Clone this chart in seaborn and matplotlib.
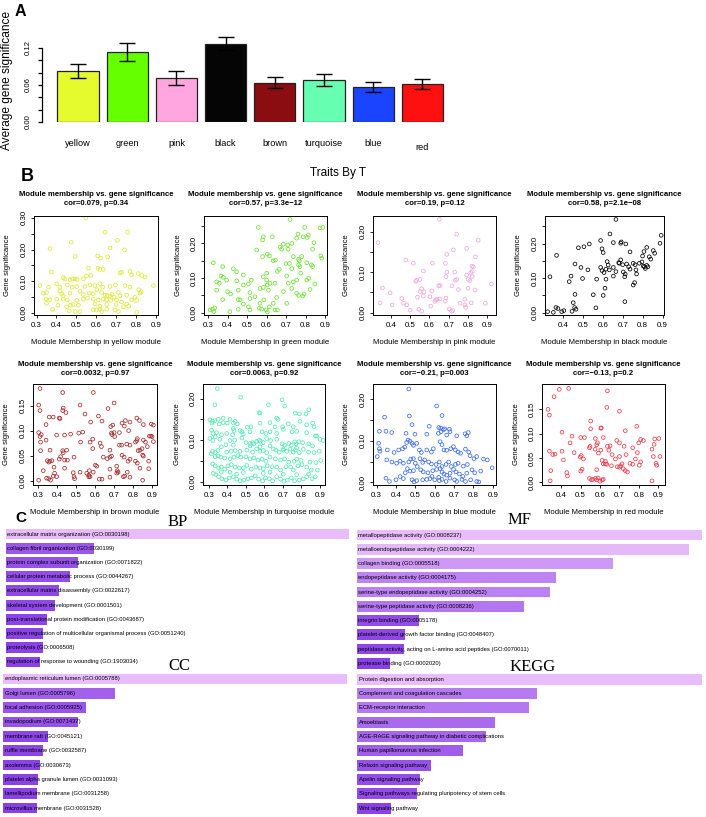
import numpy as np
import pandas as pd
import matplotlib
matplotlib.use("Agg")
import matplotlib.pyplot as plt
import seaborn as sns
from matplotlib.colors import to_rgb

# ---------------- Panel A data ----------------
modules = ["yellow", "green", "pink", "black", "brown", "turquoise", "blue", "red"]
avg_gs = [0.0825, 0.113, 0.0712, 0.127, 0.0637, 0.068, 0.0562, 0.061]
avg_gs_se = [0.0115, 0.0142, 0.0108, 0.0107, 0.0090, 0.0095, 0.0080, 0.0080]
bar_colors = ["#E6FB2E", "#66FF00", "#FFA6E0", "#050505", "#8B0D12", "#66FFB2", "#1A44FF", "#FF1010"]

# ---------------- Panel B data: (module membership, gene significance) ----------------
yellow_points = [
    (0.548, .300), (0.644, .255), (0.758, .255), (0.474, .223), (0.706, .229), (0.367, .203), (0.669, .205),
    (0.742, .199), (0.494, .178), (0.607, .180), (0.622, .173), (0.657, .177), (0.375, .129), (0.561, .141),
    (0.608, .141), (0.618, .137), (0.635, .137), (0.551, .116), (0.572, .118), (0.719, .126), (0.727, .128),
    (0.769, .131), (0.778, .120), (0.811, .124), (0.828, .118), (0.845, .113), (0.434, .111), (0.441, .107),
    (0.468, .105), (0.481, .107), (0.493, .107), (0.504, .105), (0.535, .107), (0.317, .086), (0.360, .081),
    (0.401, .092), (0.417, .081), (0.454, .088), (0.478, .081), (0.501, .083), (0.543, .083), (0.568, .088),
    (0.593, .086), (0.618, .092), (0.632, .081), (0.669, .083), (0.696, .088), (0.744, .086), (0.769, .081),
    (0.813, .073), (0.826, .066), (0.887, .086), (0.334, .062), (0.350, .064), (0.417, .068), (0.426, .060),
    (0.434, .054), (0.468, .062), (0.518, .068), (0.535, .058), (0.565, .062), (0.585, .060), (0.602, .073),
    (0.627, .064), (0.644, .056), (0.655, .054), (0.669, .054), (0.679, .058), (0.689, .049), (0.711, .064),
    (0.719, .054), (0.753, .056), (0.794, .049), (0.820, .062), (0.347, .043), (0.367, .041), (0.401, .043),
    (0.434, .043), (0.454, .041), (0.501, .039), (0.535, .043), (0.555, .047), (0.585, .043), (0.610, .041),
    (0.635, .043), (0.652, .041), (0.672, .039), (0.702, .041), (0.727, .034), (0.778, .041), (0.803, .039),
    (0.350, .030), (0.407, .024), (0.451, .019), (0.471, .024), (0.484, .026), (0.510, .024), (0.593, .028),
    (0.618, .021), (0.652, .026), (0.699, .026), (0.736, .019), (0.753, .028), (0.763, .021), (0.380, .011),
    (0.464, .006), (0.494, .004), (0.518, .004), (0.585, .009), (0.602, .009), (0.618, .011), (0.627, .004),
    (0.652, .011), (0.694, .009), (0.711, .004), (0.803, .001)]

green_points = [
    (0.720, .269), (0.557, .246), (0.795, .246), (0.874, .245), (0.888, .246), (0.761, .227), (0.814, .224),
    (0.583, .219), (0.629, .219), (0.579, .210), (0.754, .215), (0.788, .219), (0.809, .217), (0.843, .202),
    (0.686, .198), (0.708, .196), (0.729, .200), (0.669, .189), (0.677, .183), (0.710, .183), (0.836, .183),
    (0.549, .181), (0.603, .169), (0.614, .164), (0.634, .150), (0.645, .152), (0.579, .162), (0.764, .154),
    (0.768, .150), (0.780, .162), (0.737, .162), (0.699, .142), (0.717, .142), (0.729, .127), (0.764, .138),
    (0.771, .133), (0.775, .114), (0.806, .144), (0.830, .138), (0.836, .133), (0.878, .164), (0.883, .157),
    (0.326, .144), (0.374, .133), (0.429, .127), (0.446, .118), (0.480, .109), (0.521, .094), (0.365, .106),
    (0.377, .102), (0.343, .089), (0.357, .085), (0.394, .094), (0.446, .092), (0.480, .080), (0.506, .083),
    (0.583, .104), (0.600, .094), (0.603, .080), (0.655, .119), (0.665, .125), (0.703, .106), (0.711, .085),
    (0.737, .089), (0.754, .094), (0.806, .094), (0.816, .099), (0.848, .083), (0.600, .114), (0.617, .085),
    (0.343, .065), (0.374, .038), (0.399, .061), (0.415, .054), (0.454, .065), (0.463, .037), (0.514, .041),
    (0.540, .046), (0.566, .070), (0.583, .073), (0.609, .065), (0.643, .085), (0.686, .061), (0.729, .070),
    (0.754, .056), (0.764, .050), (0.785, .048), (0.792, .054), (0.823, .067), (0.454, .038), (0.480, .025),
    (0.514, .058), (0.566, .027), (0.574, .010), (0.597, .008), (0.603, .002), (0.634, .027), (0.643, .008),
    (0.309, .008), (0.322, .010), (0.333, .014), (0.329, .003), (0.411, .003), (0.454, .010), (0.506, .017),
    (0.514, .008), (0.562, .013), (0.614, .017), (0.655, .008), (0.703, .027), (0.651, .044), (0.586, .037)]

pink_points = [
    (0.652, .231), (0.334, .173), (0.741, .194), (0.853, .179), (0.478, .130), (0.838, .138), (0.793, .159),
    (0.517, .122), (0.616, .122), (0.690, .144), (0.683, .122), (0.724, .155), (0.569, .103), (0.534, .080),
    (0.552, .082), (0.529, .077), (0.560, .059), (0.572, .051), (0.569, .041), (0.655, .067), (0.648, .066),
    (0.690, .100), (0.686, .089), (0.731, .100), (0.734, .080), (0.741, .082), (0.717, .066), (0.750, .057),
    (0.802, .082), (0.821, .115), (0.828, .113), (0.822, .102), (0.814, .099), (0.793, .093), (0.822, .089),
    (0.810, .079), (0.800, .060), (0.784, .033), (0.817, .024), (0.836, .056), (0.890, .023), (0.921, .071),
    (0.357, .061), (0.397, .049), (0.457, .035), (0.466, .023), (0.483, .019), (0.500, .006), (0.545, .008),
    (0.560, .003), (0.607, .016), (0.628, .028), (0.634, .031), (0.641, .033), (0.655, .034), (0.686, .036),
    (0.681, .028), (0.703, .009), (0.714, .003), (0.721, .005), (0.759, .023), (0.784, .019), (0.788, .013),
    (0.407, .019), (0.345, .024), (0.612, .054), (0.603, .039), (0.538, .038), (0.552, .052)]

black_points = [
    (0.665, .270), (0.635, .228), (0.588, .209), (0.652, .203), (0.689, .201), (0.715, .199), (0.692, .205),
    (0.531, .199), (0.504, .191), (0.476, .188), (0.595, .185), (0.601, .174), (0.736, .176), (0.799, .164),
    (0.820, .189), (0.806, .177), (0.853, .180), (0.860, .172), (0.887, .201), (0.893, .224), (0.783, .143),
    (0.796, .147), (0.803, .135), (0.833, .162), (0.840, .155), (0.808, .133), (0.813, .128), (0.820, .137),
    (0.826, .133), (0.762, .139), (0.752, .143), (0.766, .124), (0.769, .112), (0.689, .153), (0.699, .139),
    (0.719, .141), (0.729, .133), (0.736, .126), (0.679, .145), (0.682, .143), (0.621, .148), (0.626, .138),
    (0.632, .124), (0.588, .131), (0.595, .122), (0.605, .116), (0.615, .126), (0.652, .131), (0.652, .106),
    (0.665, .119), (0.702, .118), (0.709, .104), (0.712, .112), (0.752, .080), (0.759, .087), (0.710, .032),
    (0.366, .166), (0.333, .104), (0.430, .090), (0.439, .106), (0.459, .141), (0.489, .131), (0.524, .124),
    (0.497, .099), (0.568, .097), (0.551, .052), (0.564, .014), (0.601, .050), (0.610, .071), (0.615, .097),
    (0.459, .053), (0.450, .029), (0.457, .015), (0.464, .010), (0.444, .004), (0.392, .003), (0.373, .012),
    (0.363, .015), (0.321, .003), (0.350, .001), (0.403, .006)]

brown_points = [
    (0.309, .184), (0.429, .176), (0.591, .176), (0.302, .151), (0.309, .140), (0.432, .145), (0.429, .140),
    (0.446, .136), (0.521, .151), (0.547, .133), (0.701, .155), (0.669, .144), (0.618, .129), (0.358, .127),
    (0.379, .127), (0.411, .125), (0.415, .124), (0.341, .112), (0.577, .117), (0.637, .119), (0.694, .111),
    (0.683, .108), (0.743, .115), (0.761, .120), (0.785, .117), (0.821, .125), (0.835, .120), (0.856, .112),
    (0.898, .113), (0.909, .111), (0.755, .109), (0.302, .096), (0.316, .092), (0.309, .088), (0.312, .077),
    (0.341, .081), (0.397, .091), (0.439, .091), (0.471, .093), (0.514, .095), (0.535, .097), (0.524, .077),
    (0.574, .077), (0.588, .083), (0.627, .075), (0.687, .095), (0.690, .092), (0.701, .096), (0.704, .088),
    (0.729, .096), (0.778, .100), (0.814, .077), (0.821, .080), (0.824, .084), (0.856, .081), (0.867, .077),
    (0.877, .068), (0.888, .089), (0.895, .089), (0.902, .088), (0.909, .078), (0.785, .071), (0.729, .071),
    (0.741, .071), (0.768, .073), (0.838, .061), (0.849, .064), (0.828, .060), (0.679, .061), (0.634, .068),
    (0.588, .064), (0.312, .060), (0.362, .061), (0.429, .060), (0.450, .061), (0.432, .056), (0.348, .040),
    (0.355, .037), (0.362, .039), (0.372, .040), (0.411, .043), (0.418, .048), (0.439, .041), (0.454, .041),
    (0.489, .047), (0.644, .047), (0.665, .044), (0.679, .047), (0.687, .049), (0.743, .051), (0.754, .047),
    (0.775, .039), (0.785, .043), (0.814, .039), (0.824, .035), (0.852, .051), (0.856, .049), (0.884, .039),
    (0.884, .024), (0.838, .025), (0.326, .020), (0.383, .027), (0.439, .025), (0.485, .016), (0.570, .020),
    (0.609, .029), (0.602, .031), (0.715, .029), (0.718, .020), (0.722, .017), (0.715, .015), (0.771, .017),
    (0.785, .007), (0.750, .008), (0.757, .009), (0.679, .007), (0.623, .003), (0.637, .003), (0.567, .008),
    (0.574, .008), (0.567, .011), (0.556, .015), (0.591, .017), (0.492, .004), (0.489, .008), (0.386, .015),
    (0.379, .009), (0.397, .008), (0.344, .005), (0.355, .004), (0.365, .001), (0.302, .001), (0.852, .001),
    (0.679, .023), (0.521, .017)]

turquoise_points = [
    (0.345, .224), (0.471, .203), (0.695, .197), (0.332, .185), (0.621, .185), (0.709, .182), (0.572, .166),
    (0.576, .165), (0.666, .153), (0.673, .150), (0.767, .165), (0.788, .163), (0.839, .173), (0.824, .163),
    (0.305, .149), (0.320, .145), (0.316, .141), (0.332, .147), (0.356, .139), (0.377, .142), (0.399, .141),
    (0.432, .141), (0.442, .145), (0.453, .139), (0.507, .131), (0.527, .132), (0.576, .141), (0.630, .142),
    (0.657, .132), (0.698, .132), (0.729, .139), (0.756, .132), (0.792, .145), (0.828, .137), (0.860, .141),
    (0.868, .132), (0.350, .150), (0.377, .153), (0.414, .150), (0.432, .128), (0.435, .123), (0.468, .123),
    (0.478, .120), (0.522, .120), (0.587, .120), (0.608, .116), (0.630, .120), (0.666, .116), (0.702, .126),
    (0.749, .120), (0.774, .121), (0.828, .118), (0.875, .110), (0.882, .110), (0.900, .102), (0.918, .099),
    (0.314, .124), (0.323, .116), (0.341, .118), (0.368, .113), (0.396, .116), (0.428, .113), (0.486, .115),
    (0.305, .104), (0.320, .099), (0.334, .108), (0.359, .102), (0.414, .099), (0.439, .100), (0.478, .105),
    (0.500, .094), (0.522, .092), (0.536, .094), (0.543, .091), (0.558, .097), (0.572, .100), (0.579, .097),
    (0.594, .094), (0.612, .104), (0.633, .099), (0.666, .102), (0.695, .091), (0.709, .088), (0.731, .092),
    (0.745, .088), (0.763, .096), (0.770, .091), (0.785, .096), (0.806, .094), (0.839, .091), (0.860, .086),
    (0.774, .081), (0.702, .079), (0.630, .086), (0.576, .084), (0.522, .086), (0.432, .088), (0.392, .089),
    (0.367, .084), (0.320, .073), (0.334, .070), (0.349, .075), (0.396, .071), (0.421, .073), (0.442, .075),
    (0.468, .073), (0.504, .076), (0.536, .071), (0.558, .079), (0.576, .073), (0.594, .075), (0.612, .070),
    (0.648, .079), (0.662, .076), (0.680, .071), (0.702, .076), (0.720, .073), (0.738, .078), (0.756, .071),
    (0.767, .076), (0.788, .070), (0.810, .078), (0.839, .071), (0.868, .070), (0.896, .073), (0.313, .067),
    (0.334, .060), (0.350, .062), (0.363, .059), (0.385, .057), (0.414, .055), (0.435, .059), (0.457, .063),
    (0.471, .059), (0.500, .060), (0.522, .055), (0.543, .057), (0.565, .052), (0.587, .054), (0.608, .049),
    (0.630, .059), (0.659, .055), (0.687, .052), (0.709, .055), (0.731, .047), (0.760, .049), (0.774, .054),
    (0.796, .051), (0.846, .047), (0.878, .046), (0.904, .051), (0.320, .043), (0.334, .038), (0.352, .033),
    (0.367, .035), (0.385, .030), (0.403, .038), (0.421, .041), (0.442, .035), (0.464, .033), (0.486, .033),
    (0.504, .039), (0.529, .030), (0.554, .035), (0.576, .033), (0.594, .031), (0.615, .038), (0.641, .036),
    (0.666, .035), (0.687, .028), (0.716, .036), (0.741, .035), (0.756, .028), (0.781, .038), (0.803, .041),
    (0.828, .035), (0.853, .028), (0.886, .028), (0.323, .020), (0.338, .017), (0.352, .012), (0.370, .007),
    (0.392, .004), (0.410, .009), (0.432, .012), (0.450, .006), (0.468, .002), (0.489, .004), (0.511, .007),
    (0.529, .009), (0.550, .014), (0.568, .006), (0.590, .002), (0.605, .009), (0.626, .007), (0.644, .002),
    (0.666, .012), (0.687, .006), (0.705, .001), (0.723, .004), (0.745, .009), (0.763, .002), (0.788, .004),
    (0.810, .007), (0.828, .012), (0.857, .007), (0.875, .012), (0.414, .023), (0.486, .022), (0.594, .020),
    (0.702, .018), (0.774, .017), (0.367, .023), (0.450, .018), (0.630, .023), (0.839, .018)]

blue_points = [
    (0.466, .225), (0.610, .184), (0.341, .157), (0.469, .160), (0.638, .161), (0.483, .139), (0.572, .135),
    (0.621, .132), (0.631, .131), (0.645, .127), (0.652, .129), (0.676, .128), (0.314, .123), (0.348, .123),
    (0.378, .120), (0.452, .118), (0.498, .116), (0.559, .116), (0.619, .118), (0.633, .122), (0.662, .114),
    (0.679, .122), (0.714, .112), (0.757, .117), (0.766, .112), (0.774, .120), (0.310, .094), (0.314, .081),
    (0.317, .075), (0.355, .078), (0.390, .072), (0.414, .078), (0.434, .081), (0.445, .085), (0.455, .096),
    (0.462, .102), (0.472, .099), (0.483, .094), (0.490, .089), (0.507, .094), (0.521, .078), (0.531, .072),
    (0.559, .078), (0.583, .073), (0.593, .081), (0.628, .098), (0.638, .091), (0.648, .078), (0.662, .077),
    (0.683, .081), (0.697, .086), (0.707, .078), (0.721, .073), (0.734, .070), (0.759, .080), (0.776, .073),
    (0.783, .064), (0.303, .062), (0.352, .054), (0.379, .049), (0.403, .046), (0.421, .051), (0.438, .046),
    (0.466, .049), (0.476, .056), (0.490, .057), (0.500, .046), (0.524, .057), (0.538, .048), (0.548, .054),
    (0.569, .049), (0.583, .044), (0.607, .043), (0.624, .049), (0.638, .038), (0.659, .043), (0.672, .049),
    (0.686, .038), (0.707, .043), (0.721, .046), (0.748, .039), (0.769, .043), (0.803, .057), (0.817, .062),
    (0.852, .056), (0.872, .054), (0.448, .023), (0.459, .033), (0.472, .027), (0.490, .028), (0.510, .038),
    (0.528, .030), (0.541, .025), (0.565, .023), (0.590, .028), (0.610, .031), (0.628, .033), (0.638, .025),
    (0.648, .020), (0.662, .017), (0.679, .022), (0.697, .031), (0.710, .025), (0.728, .020), (0.745, .014),
    (0.766, .022), (0.793, .030), (0.807, .023), (0.838, .027), (0.897, .035), (0.348, .010), (0.366, .002),
    (0.400, .006), (0.483, .006), (0.493, .001), (0.507, .004), (0.538, .006), (0.559, .007), (0.576, .009),
    (0.600, .006), (0.624, .004), (0.638, .007), (0.659, .002), (0.679, .010), (0.703, .006), (0.714, .002),
    (0.741, .007), (0.759, .002), (0.786, .006), (0.817, .002), (0.828, .001), (0.421, .014), (0.438, .009),
    (0.586, .014), (0.621, .012)]

red_points = [
    (0.391, .191), (0.439, .193), (0.364, .176), (0.638, .188), (0.333, .150), (0.340, .138), (0.635, .154),
    (0.552, .126), (0.700, .146), (0.789, .115), (0.730, .106), (0.552, .110), (0.604, .111), (0.607, .112),
    (0.405, .103), (0.617, .092), (0.686, .086), (0.902, .090), (0.340, .064), (0.357, .057), (0.369, .058),
    (0.405, .064), (0.412, .046), (0.446, .081), (0.456, .095), (0.467, .061), (0.501, .092), (0.515, .048),
    (0.520, .092), (0.546, .071), (0.549, .074), (0.576, .090), (0.587, .081), (0.592, .060), (0.604, .066),
    (0.611, .045), (0.628, .043), (0.638, .074), (0.652, .075), (0.617, .038), (0.635, .037), (0.659, .034),
    (0.347, .024), (0.344, .003), (0.429, .020), (0.433, .013), (0.501, .023), (0.508, .027), (0.546, .008),
    (0.556, .005), (0.563, .006), (0.576, .008), (0.583, .005), (0.590, .009), (0.600, .002), (0.611, .005),
    (0.617, .006), (0.583, .026), (0.628, .038), (0.662, .057), (0.679, .048), (0.689, .032), (0.700, .031),
    (0.706, .034), (0.713, .038), (0.720, .028), (0.730, .024), (0.741, .021), (0.754, .039), (0.768, .037),
    (0.782, .048), (0.792, .061), (0.802, .035), (0.809, .042), (0.700, .081), (0.724, .074), (0.734, .057),
    (0.768, .071), (0.799, .081), (0.809, .088), (0.867, .068), (0.874, .053), (0.878, .078), (0.888, .039),
    (0.891, .035), (0.908, .053), (0.867, .003), (0.881, .089), (0.823, .086), (0.700, .053), (0.498, .052),
    (0.504, .055), (0.575, .068), (0.583, .077), (0.645, .066)]

module_points = {
    "yellow": yellow_points, "green": green_points, "pink": pink_points, "black": black_points,
    "brown": brown_points, "turquoise": turquoise_points, "blue": blue_points, "red": red_points}
point_colors = {
    "yellow": "#DDE830", "green": "#6BE030", "pink": "#EFA5DF", "black": "#000000",
    "brown": "#A52A2A", "turquoise": "#50EAB0", "blue": "#3A6AE6", "red": "#E83A4A"}
cor_labels = ["0.079", "0.57", "0.19", "0.58", "0.0032", "0.0063", "-0.21", "-0.13"]
p_labels = ["0.34", "3.3e-12", "0.12", "2.1e-08", "0.97", "0.92", "0.003", "0.2"]

# ---------------- Panel C data ----------------
bp_terms = ["extracellular matrix organization (GO:0030198)", "collagen fibril organization (GO:0030199)",
            "protein complex subunit organization (GO:0071822)", "cellular protein metabolic process (GO:0044267)",
            "extracellular matrix disassembly (GO:0022617)", "skeletal system development (GO:0001501)",
            "post-translational protein modification (GO:0043687)",
            "positive regulation of multicellular organismal process (GO:0051240)",
            "proteolysis (GO:0006508)", "regulation of response to wounding (GO:1903034)"]
bp_scores = [343, 88, 72, 64, 53, 49, 41, 37.5, 37, 34]
mf_terms = ["metallopeptidase activity (GO:0008237)", "metalloendopeptidase activity (GO:0004222)",
            "collagen binding (GO:0005518)", "endopeptidase activity (GO:0004175)",
            "serine-type endopeptidase activity (GO:0004252)", "serine-type peptidase activity (GO:0008236)",
            "integrin binding (GO:0005178)", "platelet-derived growth factor binding (GO:0048407)",
            "peptidase activity, acting on L-amino acid peptides (GO:0070011)", "protease binding (GO:0002020)"]
mf_scores = [345, 332, 256, 199, 193, 167, 62, 48, 47, 33]
cc_terms = ["endoplasmic reticulum lumen (GO:0005788)", "Golgi lumen (GO:0005796)", "focal adhesion (GO:0005925)",
            "invadopodium (GO:0071437)", "membrane raft (GO:0045121)", "ruffle membrane (GO:0032587)",
            "axolemma (GO:0030673)", "platelet alpha granule lumen (GO:0031093)",
            "lamellipodium membrane (GO:0031258)", "microvillus membrane (GO:0031528)"]
cc_scores = [343.5, 111.7, 82.7, 74.7, 44.7, 39.7, 36.7, 34.7, 33.7, 33.5]
kegg_terms = ["Protein digestion and absorption", "Complement and coagulation cascades", "ECM-receptor interaction",
              "Amoebiasis", "AGE-RAGE signaling pathway in diabetic complications", "Human papillomavirus infection",
              "Relaxin signaling pathway", "Apelin signaling pathway",
              "Signaling pathways regulating pluripotency of stem cells", "Wnt signaling pathway"]
kegg_scores = [346, 180, 172, 138, 129, 106, 74, 63, 60, 34]

# ---------------- Figure setup ----------------
sns.set_theme(style="ticks")
plt.rcParams["font.family"] = ["Liberation Sans", "DejaVu Sans"]
plt.rcParams.update({"axes.edgecolor": "black", "xtick.color": "black", "ytick.color": "black",
                     "axes.linewidth": 0.7, "text.color": "black", "axes.labelcolor": "black"})

W, H = 706, 817
fig = plt.figure(figsize=(W / 100, H / 100), dpi=100)
fig.patch.set_facecolor("white")


def add_ax(x0, y0, x1, y1):
    return fig.add_axes([x0 / W, 1 - y1 / H, (x1 - x0) / W, (y1 - y0) / H])


def ftext(x, y, s, **kw):
    kw.setdefault("ha", "center")
    kw.setdefault("va", "center")
    return fig.text(x / W, 1 - y / H, s, **kw)


# ---------------- Panel A ----------------
axA = add_ax(42, 30, 460, 122)
dfA = pd.DataFrame({"module": modules, "avg_gs": avg_gs})
sns.barplot(data=dfA, x="module", y="avg_gs", hue="module", palette=bar_colors, saturation=1,
            width=0.84, edgecolor="#222222", linewidth=0.9, errorbar=None, legend=False, ax=axA)
axA.errorbar(np.arange(len(modules)), avg_gs, yerr=avg_gs_se, fmt="none", ecolor="black",
             elinewidth=1.0, capsize=6, capthick=1.0, zorder=5)
axA.set_xlim(-0.732, 7.764)
axA.set_ylim(0, 0.149)
for s in ["top", "right", "bottom"]:
    axA.spines[s].set_visible(False)
axA.spines["left"].set_bounds(0, 0.12)
axA.spines["left"].set_linewidth(0.9)
axA.set_yticks([0, 0.02, 0.04, 0.06, 0.08, 0.10, 0.12])
axA.set_yticklabels(["0.00", "", "", "0.06", "", "", "0.12"])
axA.tick_params(axis="y", direction="out", length=3, width=0.9, labelsize=5.6, pad=4.5, labelrotation=90)
for t in axA.get_yticklabels():
    t.set_va("center")
axA.set_xticks([])
axA.set_xlabel("")
axA.set_ylabel("Average gene significance", fontsize=8.6)
axA.yaxis.set_label_coords((7 - 42) / 418, (122 - 80) / 92)
axA.yaxis.label.set_va("center")
per_px = 0.149 / 92
for i, m in enumerate(modules):
    off = 26 if m == "red" else 22
    axA.text(i, -off * per_px, m, ha="center", va="center", fontsize=6.6, clip_on=False)
ftext(20, 12, "A", fontsize=11.5, fontweight="bold")

# ---------------- Panel B ----------------
ftext(27, 176.5, "B", fontsize=13, fontweight="bold")
ftext(338, 173, "Traits By T", fontsize=8.5)

layout = [
    ((34, 216, 158, 315), (0.287, 0.910), (-0.007, 0.306), 0.30),
    ((204, 216, 327, 315), (0.278, 0.910), (-0.0066, 0.279), 0.25),
    ((373, 216, 496, 315), (0.308, 0.945), (-0.006, 0.239), 0.20),
    ((545, 216, 664, 315), (0.308, 0.907), (-0.0067, 0.280), 0.25),
    ((33, 384, 157, 485), (0.272, 0.928), (-0.0086, 0.193), 0.15),
    ((203, 384, 325, 485), (0.268, 0.927), (-0.008, 0.235), 0.20),
    ((373, 384, 496, 485), (0.281, 0.917), (-0.0065, 0.237), 0.20),
    ((542, 384, 665, 485), (0.302, 0.934), (-0.0055, 0.202), 0.15),
]

for k, m in enumerate(modules):
    (x0, y0, x1, y1), xl, yl, ytop = layout[k]
    top_row = k < 4
    ax = add_ax(x0, y0, x1, y1)
    df = pd.DataFrame(module_points[m], columns=["mm", "gs"])
    sns.scatterplot(data=df, x="mm", y="gs", ax=ax, marker="o", s=7, facecolor="none",
                    edgecolor=point_colors[m], linewidth=0.55)
    ax.set_xlim(*xl)
    ax.set_ylim(*yl)
    xt = [round(v, 1) for v in np.arange(0.3, 0.95, 0.1) if xl[0] <= round(v, 1) <= xl[1]]
    ax.set_xticks(xt)
    ax.set_xticklabels([f"{v:.1f}" for v in xt])
    yt = [round(v, 2) for v in np.arange(0, ytop + 0.001, 0.05)]
    ax.set_yticks(yt)
    ax.set_yticklabels([f"{v:.2f}" if (ytop <= 0.15 or round(v * 100) % 10 == 0) else "" for v in yt])
    ax.tick_params(direction="out", length=2.5, width=0.6, labelsize=5.7)
    ax.tick_params(axis="x", pad=2.8)
    ax.tick_params(axis="y", pad=2.0, labelrotation=90)
    for t in ax.get_yticklabels():
        t.set_va("center")
    for sp in ax.spines.values():
        sp.set_visible(True)
        sp.set_linewidth(0.7)
        sp.set_color("black")
    xlab_y = 343 if top_row else 512
    ax.set_xlabel(f"Module Membership in {m} module", fontsize=5.6)
    ax.xaxis.set_label_coords(0.5, -(xlab_y - y1) / (y1 - y0))
    ax.xaxis.label.set_va("center")
    ax.set_ylabel("Gene significance", fontsize=5.6)
    ax.yaxis.set_label_coords(-26 / (x1 - x0), 0.5)
    ax.yaxis.label.set_va("center")
    t1, t2 = (195, 203.5) if top_row else (365, 373.5)
    cx = (x0 + x1) / 2
    ftext(cx, t1, "Module membership vs. gene significance", fontsize=5.6, fontweight="bold")
    ftext(cx, t2, f"cor={cor_labels[k]}, p={p_labels[k]}".replace("-", "\u2212"),
          fontsize=5.6, fontweight="bold")

# ---------------- Panel C ----------------
ftext(20.5, 518, "C", fontsize=11, fontweight="bold")
light = np.array(to_rgb("#E9BDFB"))
dark = np.array(to_rgb("#8033E6"))

enrich = [
    ("BP", bp_terms, bp_scores, (5.7, 526.9, 350.7, 669.1), (178, 521.5)),
    ("MF", mf_terms, mf_scores, (357, 527.9, 702, 670.4), (520, 520.5)),
    ("CC", cc_terms, cc_scores, (3.3, 671.8, 348.3, 815.2), (179, 666)),
    ("KEGG", kegg_terms, kegg_scores, (357.3, 672.1, 702.3, 815.4), (532.5, 667)),
]
for title, terms, scores, box, tpos in enrich:
    ax = add_ax(*box)
    mx = max(scores)
    cols = [tuple(dark + (light - dark) * (v / mx)) for v in scores]
    dfc = pd.DataFrame({"term": terms, "score": scores})
    sns.barplot(data=dfc, x="score", y="term", hue="term", palette=cols, saturation=1, width=0.76,
                orient="h", legend=False, errorbar=None, linewidth=0, ax=ax)
    ax.set_xlim(0, 345)
    ax.set_ylim(len(terms) - 0.5, -0.5)
    ax.axis("off")
    for i, term in enumerate(terms):
        ax.text(1.3, i, term, ha="left", va="center", fontsize=4.2, clip_on=False)
    ftext(tpos[0], tpos[1], title, fontsize=12, family=["Liberation Serif", "DejaVu Serif"])

fig.savefig("out.png", dpi=100, facecolor="white")
